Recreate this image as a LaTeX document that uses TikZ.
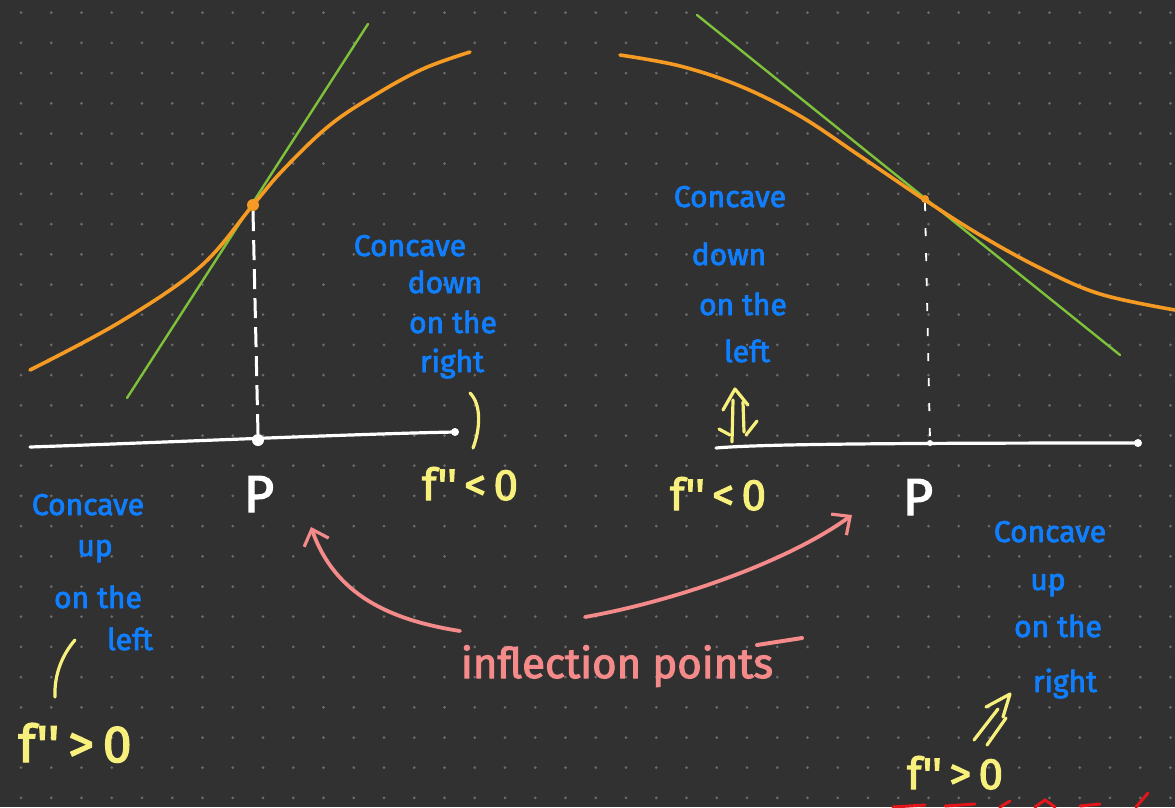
\documentclass[tikz,border=0pt]{standalone}
\usepackage{fontspec}
\setmainfont{Fira Sans}
\newfontfamily\handfont[FakeBold=2.5]{Fira Sans}
\usetikzlibrary{arrows.meta}
\definecolor{bg}{HTML}{313131}
\definecolor{gdot}{HTML}{6C6C6C}
\definecolor{corange}{HTML}{F59A23}
\definecolor{cgreen}{HTML}{7DC23A}
\definecolor{cblue}{HTML}{0F7FFF}
\definecolor{cyellow}{HTML}{F7F07C}
\definecolor{cpink}{HTML}{F48A8A}
\definecolor{cred}{HTML}{E3161B}
\newcommand{\fpp}{f\kern1pt\textquotesingle\textquotesingle}
\begin{document}
\begin{tikzpicture}[x=1pt,y=-1pt,
  curveO/.style={corange, line width=3.6pt, line cap=round, line join=round},
  tang/.style={cgreen, line width=2.4pt, line cap=round},
  axisline/.style={white, line width=3.2pt, line cap=round},
  dashL/.style={white, line width=3pt, dash pattern=on 20pt off 9pt},
  dashR/.style={white, line width=1.8pt, dash pattern=on 8pt off 17pt},
  bluetxt/.style={text=cblue, font=\handfont\fontsize{30}{30}\selectfont, inner sep=0pt, anchor=base},
  yeltxt/.style={text=cyellow, font=\handfont\fontsize{44}{44}\selectfont, inner sep=0pt, anchor=base},
  ptxt/.style={text=white, font=\handfont\fontsize{52}{52}\selectfont, inner sep=0pt, anchor=base},
  pinktxt/.style={text=cpink, font=\handfont\fontsize{42}{42}\selectfont, inner sep=0pt, anchor=base},
  pinkarrow/.style={cpink, line width=3.8pt, line cap=round, -{Straight Barb[length=14pt,width=26pt,line width=3.2pt]}},
  yelstroke/.style={cyellow, line width=3.2pt, line cap=round, line join=round},
  redstroke/.style={cred, line width=3pt, line cap=round},
  dotnode/.style={circle, inner sep=0pt, draw=none}
]
\useasboundingbox (0,0) rectangle (1175,807);
\fill[bg] (0,0) rectangle (1175,807);
\foreach \i in {0,...,38}{
  \foreach \j in {0,...,26}{
    \fill[gdot] ({21+30.25*\i},{12.7+30.2*\j}) circle (1.5pt);
  }
}

% ---------------- left graph ----------------
\draw[tang] (127,398) -- (368,24);
\draw[curveO] plot[smooth, tension=0.6] coordinates {(30,370) (120,322) (200,267) (253,205) (283,170) (330,125) (380,92) (425,68) (470,52)};
\node[dotnode, fill=corange, minimum size=12pt] (pL) at (253,205) {};
\coordinate (axL0) at (30,447);
\coordinate (axL1) at (455,432);
\draw[axisline] (axL0) .. controls (150,443) and (350,434) .. (axL1);
\node[dotnode, fill=white, minimum size=12pt] (xL) at (258,440) {};
\node[dotnode, fill=white, minimum size=8pt] (eL) at (axL1) {};
\draw[dashL] (pL.south) -- (xL.north);
\node[ptxt] (PL) at (259,512) {P};

\node[bluetxt] (cdr1) at (410,256) {Concave};
\node[bluetxt] (cdr2) at (445,293) {down};
\node[bluetxt] (cdr3) at (453,333) {on the};
\node[bluetxt] (cdr4) at (452,372) {right};
\draw[yelstroke] (470,393) .. controls (482,405) and (480,430) .. (473,448);
\node[yeltxt] (fL) at (470,500) {\fpp\,<\,0};

% ---------------- right graph ----------------
\draw[tang] (697,15) -- (1120,355);
\draw[curveO] plot[smooth, tension=0.6] coordinates {(620,55) (680,66) (740,86) (800,116) (860,156) (925,200) (980,235) (1040,268) (1100,294) (1175,310)};
\node[dotnode, fill=corange, minimum size=8pt] (pR) at (925,199) {};
\coordinate (axR0) at (716,448);
\coordinate (axR1) at (1138,443);
\draw[axisline] (axR0) .. controls (760,444) and (900,443) .. (axR1);
\node[dotnode, fill=white, minimum size=6pt] (xR) at (930,443) {};
\node[dotnode, fill=white, minimum size=8pt] (eR) at (axR1) {};
\draw[dashR] (pR.south) -- (xR.north);
\node[ptxt] (PR) at (918,515) {P};

\node[bluetxt] (cdl1) at (730,207) {Concave};
\node[bluetxt] (cdl2) at (729,265) {down};
\node[bluetxt] (cdl3) at (743,315) {on the};
\node[bluetxt] (cdl4) at (747,362) {left};
% double arrow up-down
\draw[yelstroke] (733,400) -- (732,442);
\draw[yelstroke] (743,402) -- (744,432);
\draw[yelstroke] (723,410) -- (735,389) -- (748,405);
\draw[yelstroke] (719,429) -- (730,435);
\draw[yelstroke] (757,421) -- (746,435);
\node[yeltxt] (fR) at (718,510) {\fpp\,<\,0};

% ---------------- bottom left ----------------
\node[bluetxt] (cul1) at (88,515) {Concave};
\node[bluetxt] (cul2) at (95,556) {up};
\node[bluetxt] (cul3) at (98,608) {on the};
\node[bluetxt] (cul4) at (130,650) {left};
\draw[yelstroke] (75,640) .. controls (62,655) and (54,675) .. (55,697);
\node[yeltxt, font=\handfont\fontsize{52}{52}\selectfont] (fBL) at (75,762) {\fpp\,>\,0};

% ---------------- bottom right ----------------
\node[bluetxt] (cur1) at (1050,542) {Concave};
\node[bluetxt] (cur2) at (1048,590) {up};
\node[bluetxt] (cur3) at (1058,637) {on the};
\node[bluetxt] (cur4) at (1065,692) {right};
\draw[yelstroke] (974,740) -- (998,709);
\draw[yelstroke] (987,745) -- (1006,718);
\draw[yelstroke] (986,707) -- (1010,694) -- (1003,717);
\node[yeltxt] (fBR) at (955,789) {\fpp\,>\,0};
% red partial strokes at bottom edge
\draw[redstroke] (893,807) -- (925,805);
\draw[redstroke] (945,806) -- (975,804);
\draw[redstroke] (1000,807) -- (1010,801);
\draw[redstroke] (1035,807) -- (1045,800) -- (1055,807);
\draw[redstroke] (1080,806) -- (1100,804);
\draw[redstroke] (1136,807) -- (1148,793);

% ---------------- inflection points ----------------
\node[pinktxt] (infl) at (617,678) {inflection points};
\draw[cpink, line width=4pt, line cap=round] (757,645) -- (802,638);
\coordinate (aLs) at (460,631);
\coordinate (aLe) at (311,527);
\coordinate (aRs) at (585,617);
\coordinate (aRe) at (852,515);
\draw[pinkarrow] (aLs) .. controls (390,620) and (335,595) .. (aLe);
\draw[pinkarrow] (aRs) .. controls (680,600) and (790,560) .. (aRe);
\end{tikzpicture}
\end{document}
